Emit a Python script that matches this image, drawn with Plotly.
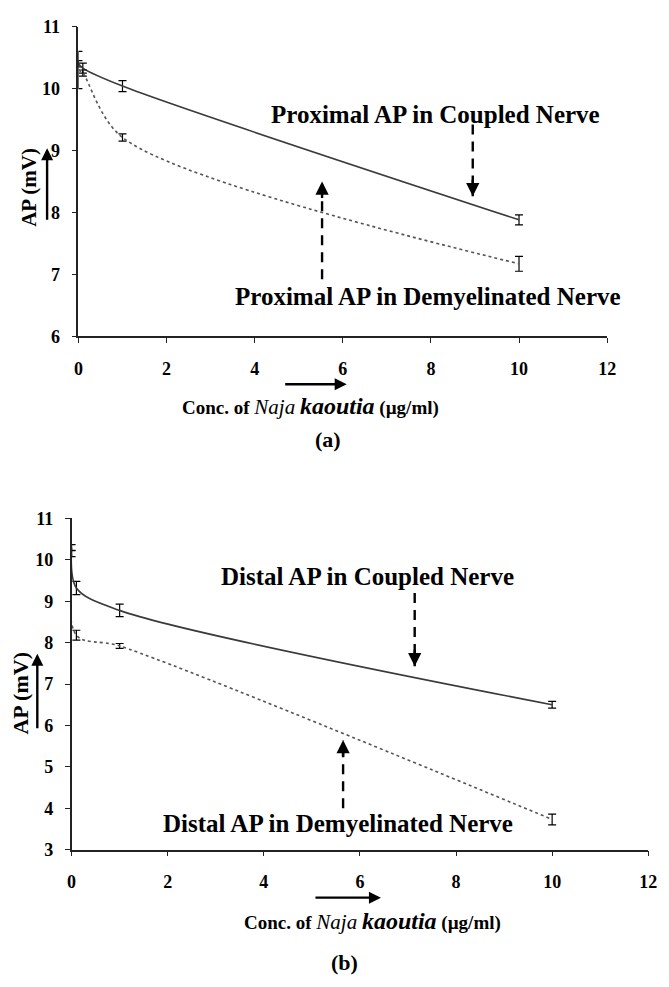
import plotly.graph_objects as go

# ---------------- data ----------------
conc = [0, 0.1, 1, 10]

prox_coupled = [10.40, 10.33, 10.04, 7.88]
prox_coupled_err = [0.05, 0.08, 0.09, 0.08]
prox_demy = [10.30, 10.25, 9.21, 7.17]
prox_demy_err = [0.30, 0.05, 0.06, 0.12]

dist_coupled = [10.30, 9.32, 8.78, 6.50]
dist_coupled_err = [0.07, 0.16, 0.15, 0.08]
dist_demy = [10.15, 8.18, 7.92, 3.73]
dist_demy_err = [0.07, 0.12, 0.06, 0.13]

x_ticks = [0, 2, 4, 6, 8, 10, 12]
ya_ticks = [6, 7, 8, 9, 10, 11]
yb_ticks = [3, 4, 5, 6, 7, 8, 9, 10, 11]

FONT = "Liberation Serif"
W, H = 669, 987

fig = go.Figure()


def add_series(x, y, err, xa, ya, dash, color):
    fig.add_trace(go.Scatter(
        x=x, y=y, mode="lines", xaxis=xa, yaxis=ya,
        line=dict(color=color, width=1.6, dash=dash, shape="spline", smoothing=0.9),
        error_y=dict(type="data", array=err, visible=True, color="black",
                     thickness=1.2, width=4),
        showlegend=False, hoverinfo="skip"))


add_series(conc, prox_coupled, prox_coupled_err, "x", "y", "solid", "#3a3a3a")
add_series(conc, prox_demy, prox_demy_err, "x", "y", "dot", "#555555")
add_series(conc, dist_coupled, dist_coupled_err, "x2", "y2", "solid", "#3a3a3a")
add_series(conc, dist_demy, dist_demy_err, "x2", "y2", "dot", "#555555")

axis_common = dict(showgrid=False, zeroline=False, showline=True, linecolor="#222",
                   linewidth=1.5, ticks="outside", ticklen=5, tickcolor="#222",
                   tickwidth=1.3,
                   tickfont=dict(family=FONT, size=18, color="black", weight="bold"))

fig.update_layout(
    width=W, height=H, margin=dict(l=0, r=0, t=0, b=0),
    paper_bgcolor="white", plot_bgcolor="white",
    xaxis=dict(domain=[75 / W, 615 / W], range=[0, 12], tickvals=x_ticks,
               anchor="y", ticklabelstandoff=10, **axis_common),
    yaxis=dict(domain=[1 - 333 / H, 1 - 17 / H], range=[6, 11], tickvals=ya_ticks,
               anchor="x", ticklabelstandoff=8, **axis_common),
    xaxis2=dict(domain=[68 / W, 657 / W], range=[0, 12], tickvals=x_ticks,
                anchor="y2", ticklabelstandoff=10, **axis_common),
    yaxis2=dict(domain=[1 - 857 / H, 1 - 519 / H], range=[3, 11], tickvals=yb_ticks,
                anchor="x2", ticklabelstandoff=8, **axis_common),
)

ann = []
shapes = []


def label(text, x, y, xref, yref, size, angle=0):
    ann.append(dict(text=text, x=x, y=y, xref=xref, yref=yref, showarrow=False,
                    textangle=angle, xanchor="center", yanchor="middle",
                    font=dict(family=FONT, size=size, color="black")))


def dashed_arrow(x, y0, y1, xref, yref, head_px):
    # dashed shaft from y0 to y1 (data), arrowhead at y1
    shapes.append(dict(type="line", x0=x, x1=x, y0=y0, y1=y1, xref=xref, yref=yref,
                       line=dict(color="black", width=2.4, dash="10px,7px")))
    ann.append(dict(x=x, y=y1, xref=xref, yref=yref, ax=0, ay=head_px,
                    showarrow=True, arrowhead=2, arrowsize=1.1, arrowwidth=2.4,
                    arrowcolor="black", text=""))


def solid_arrow_px(x0, y0, x1, y1):
    ann.append(dict(x=x1 / W, y=1 - y1 / H, xref="paper", yref="paper",
                    ax=x0 - x1, ay=y0 - y1,
                    showarrow=True, arrowhead=2, arrowsize=1, arrowwidth=2.4,
                    arrowcolor="black", text=""))


# panel (a) annotations
label("<b>Proximal AP in Coupled Nerve</b>", 8.1, 9.58, "x", "y", 25)
dashed_arrow(8.95, 9.42, 8.26, "x", "y", -18)
label("<b>Proximal AP in Demyelinated Nerve</b>", 7.93, 6.64, "x", "y", 25)
dashed_arrow(5.53, 6.92, 8.5, "x", "y", 18)

# panel (b) annotations
label("<b>Distal AP in Coupled Nerve</b>", 6.16, 9.6, "x2", "y2", 25)
dashed_arrow(7.14, 9.2, 7.43, "x2", "y2", -18)
label("<b>Distal AP in Demyelinated Nerve</b>", 5.55, 3.62, "x2", "y2", 25)
dashed_arrow(5.65, 4.0, 5.65, "x2", "y2", 18)

# axis titles
xtitle = ("<b>Conc. of </b><i><span style='font-size:21px'>Naja</span></i> "
          "<b><i><span style='font-size:24px'>kaoutia</span></i> (µg/ml)</b>")
label(xtitle, 312 / W, 1 - 404 / H, "paper", "paper", 19)
label(xtitle, 375 / W, 1 - 930 / H, "paper", "paper", 19)
label("<b>(a)</b>", 330 / W, 1 - 438 / H, "paper", "paper", 22)
label("<b>(b)</b>", 347 / W, 1 - 972 / H, "paper", "paper", 22)

label("<b>AP (mV)</b>", 25 / W, 1 - 181 / H, "paper", "paper", 21, -90)
label("<b>AP (mV)</b>", 16 / W, 1 - 698 / H, "paper", "paper", 22, -90)

# axis arrows
solid_arrow_px(43, 214, 43, 141)
solid_arrow_px(33, 733, 33, 657)
solid_arrow_px(286, 382, 349, 382)
solid_arrow_px(317, 906, 384, 906)

fig.update_layout(annotations=ann, shapes=shapes)
fig.write_html("out.html")
